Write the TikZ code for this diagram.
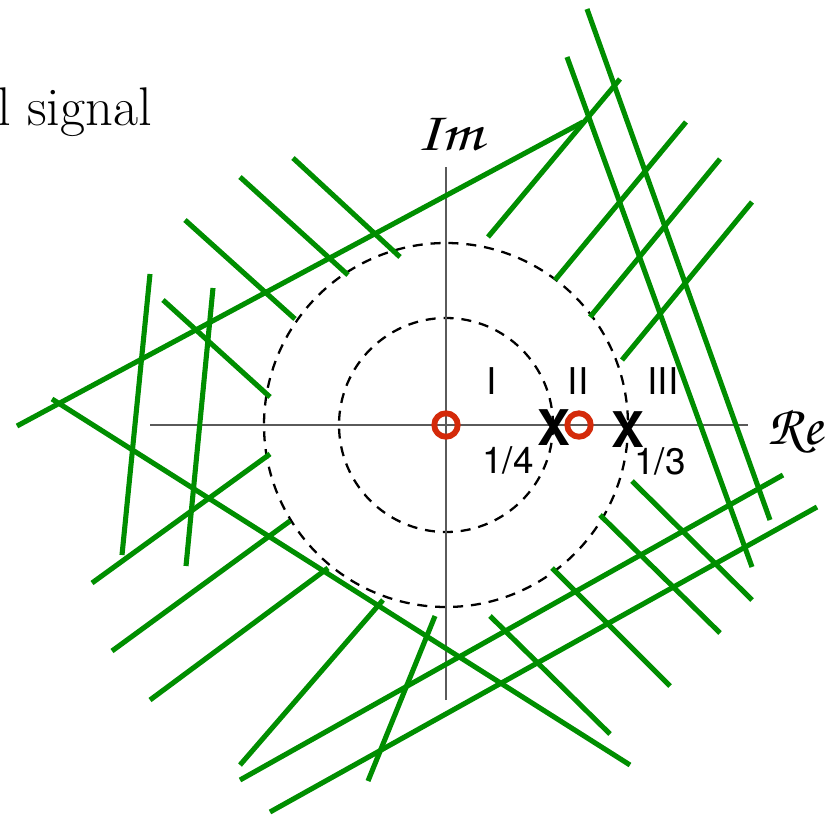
\documentclass[tikz,border=0pt]{standalone}
\usepackage[T1]{fontenc}
\usepackage{fontspec}
\newfontfamily\helv{TeX Gyre Heros}
\newcommand{\chancery}{\fontencoding{T1}\fontfamily{pzc}\fontseries{mb}\fontshape{it}\selectfont}
\usepackage{tikz}
\usetikzlibrary{positioning}
\definecolor{hatchgreen}{RGB}{0,142,0}
\definecolor{zerored}   {RGB}{212,42,10}
\definecolor{axisgray}  {RGB}{90,90,90}

\begin{document}
\begin{tikzpicture}[
  x=0.02cm, y=-0.02cm,
  every node/.style={inner sep=0pt},
  axisline/.style={axisgray, line width=0.85pt},
  ring/.style={black, line width=1.3pt, dash pattern=on 5.7pt off 4.5pt},
  hatch/.style={hatchgreen, line width=2.9pt},
  region/.style={font=\helv\fontsize{21}{21}\selectfont},
  pole/.style={font=\helv\bfseries\fontsize{28}{28}\selectfont},
  zero/.style={circle, draw=zerored, line width=3.3pt, minimum size=0.47cm},
  axislabel/.style={font=\chancery\fontsize{32}{32}\selectfont}
]
  \useasboundingbox (0,0) rectangle (825,815);

  % Coordinates
  \coordinate (o)   at (446,425);
  \coordinate (reL) at (150,425);
  \coordinate (reR) at (748,425);
  \coordinate (imT) at (446,167);
  \coordinate (imB) at (446,700);

  % Circles and axes
  \draw [ring] (o) circle[radius=107];
  \draw [ring] (o) circle[radius=182];
  \draw [axisline] (reL) -- (reR);
  \draw [axisline] (imB) -- (imT);

  % Long boundary lines
  \draw [hatch] (17,426) -- (583,122);
  \draw [hatch] (52,399) -- (630,765);
  \draw [hatch] (587,9) -- (770,520);
  \draw [hatch] (567,57) -- (752,567);
  \draw [hatch] (240,780) -- (783,475);
  \draw [hatch] (270,812) -- (817,507);

  % Hatching, top left
  \draw [hatch] (293,158) -- (400,257);
  \draw [hatch] (240,177) -- (348,275);
  \draw [hatch] (185,220) -- (295,319);
  \draw [hatch] (163,300) -- (270,397);
  % Hatching, left
  \draw [hatch] (150,274) -- (122,555);
  \draw [hatch] (213,288) -- (186,566);
  % Hatching, bottom left
  \draw [hatch] (92,583) -- (270,454);
  \draw [hatch] (112,651) -- (290,521);
  \draw [hatch] (150,700) -- (328,568);
  \draw [hatch] (240,765) -- (383,600);
  \draw [hatch] (435,616) -- (368,781);
  % Hatching, bottom right
  \draw [hatch] (490,616) -- (610,734);
  \draw [hatch] (552,568) -- (670,686);
  \draw [hatch] (600,515) -- (720,633);
  \draw [hatch] (632,481) -- (752,600);
  % Hatching, top right
  \draw [hatch] (488,237) -- (620,79);
  \draw [hatch] (555,280) -- (686,122);
  \draw [hatch] (590,317) -- (720,159);
  \draw [hatch] (622,360) -- (752,202);

  % Nodes
  \node (title) [anchor=base west, font=\fontsize{31}{34}\selectfont] at (-3,125) {l signal};
  \node (im) [axislabel] at (449,134) {\scalebox{1.2}[1]{Im}};
  \node (re) [axislabel, anchor=west] at (767,431) {\scalebox{1.05}[1]{Re}};
  \node (r1) [region] at (492,381) {I};
  \node (r2) [region] at (578,381) {II};
  \node (r3) [region] at (663,381) {III};
  \node (p1) [pole] at (554,428) {X};
  \node (p2) [pole] at (628,430) {X};
  \node (l1) [region] at (508,460) {1/4};
  \node (l2) [region] at (660,461) {1/3};
  \node (z0) [zero] at (o) {};
  \node (z1) [zero] at (579,425) {};
\end{tikzpicture}
\end{document}
